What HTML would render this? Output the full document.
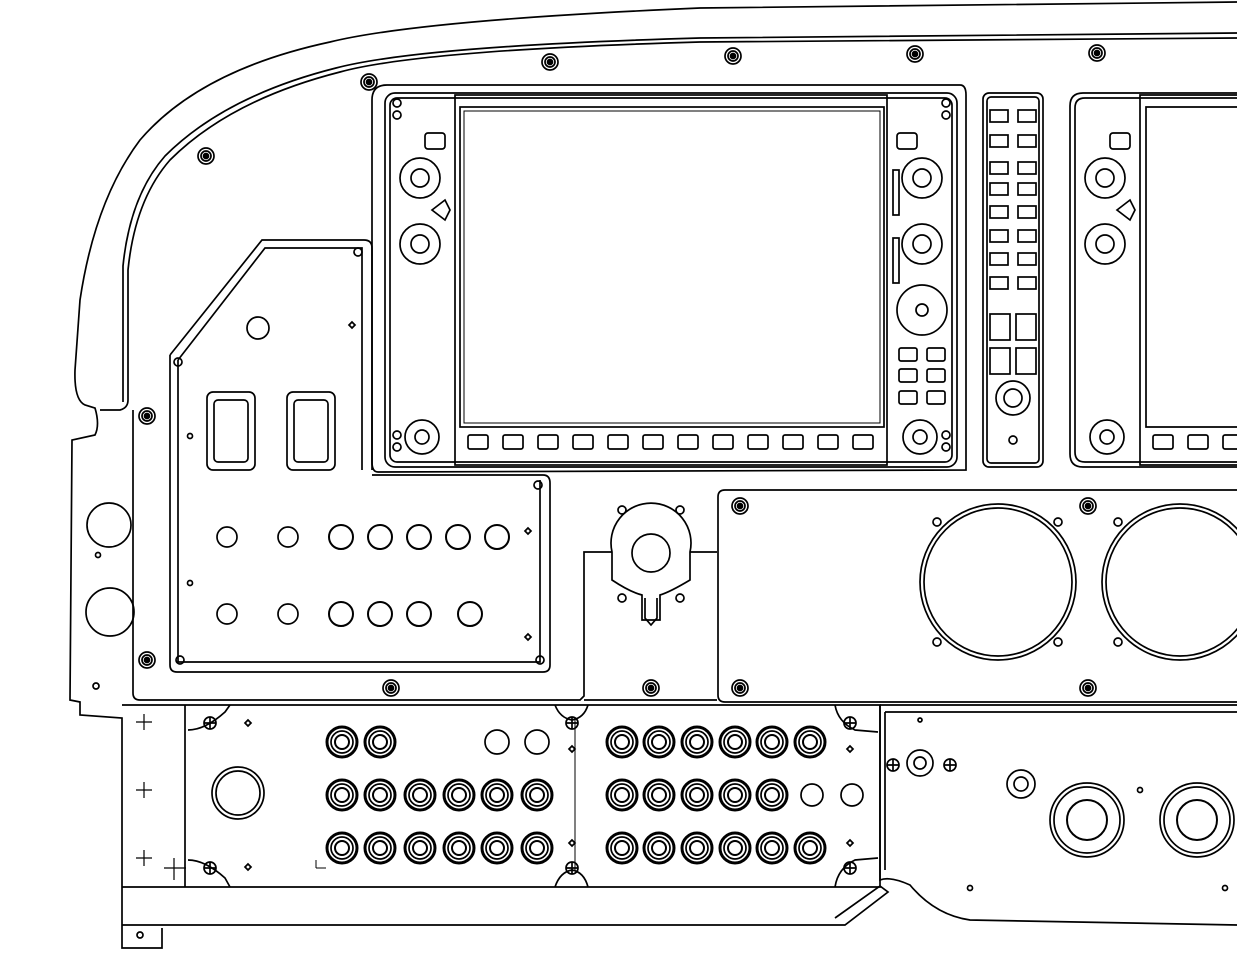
<!DOCTYPE html>
<html><head><style>html,body{margin:0;padding:0;background:#fff}svg{display:block}</style></head><body>
<svg width="1237" height="980" viewBox="0 0 1237 980" xmlns="http://www.w3.org/2000/svg" fill="none" stroke="#000" stroke-width="1.7">
<defs>
<g id="scr"><circle r="8"/><circle r="5"/><circle r="2.5" fill="#000"/></g>
<g id="jack"><circle r="15" stroke-width="3"/><circle r="11"/><circle r="7" stroke-width="2"/></g>
<g id="ph"><circle r="6"/><path d="M-6 0H6M0 -6V6"/></g>
</defs>
<path d="M1237 2 L700 8 Q420 20 330 42 Q200 70 140 140 Q95 200 80 300 L75 370 Q74 400 85 405 L95 408 Q100 425 95 435 L72 440 L70 700 L80 702 L80 715 L122 718 L122 948 L162 948 L162 928"/>
<path d="M1237 38 L700 42 Q420 50 340 72 Q230 100 170 160 Q135 200 128 270 L128 400 Q128 408 120 410 L100 410"/>
<path d="M1237 33 L700 38 Q420 46 336 68 Q225 96 165 156 Q130 196 123 266 L123 402"/>
<path d="M133 410 L133 693 Q133 700 140 700 L580 700 L584 696 L584 552 L612 552"/>
<path d="M690 552 L717 552"/>
<path d="M372 100 Q372 85 387 85 L960 85 Q966 85 966 95 L966 470 L378 472 Q372 472 372 462 Z"/>
<rect x="385" y="93" width="572" height="374" rx="10"/>
<rect x="390" y="98" width="562" height="364" rx="7"/>
<rect x="455" y="95" width="432" height="370"/>
<rect x="460" y="107" width="424" height="320"/>
<rect x="464" y="111" width="416" height="312" stroke-width="1"/>
<g transform="translate(0,442)">
<rect x="468" y="-7" width="20" height="14" rx="2"/><rect x="503" y="-7" width="20" height="14" rx="2"/><rect x="538" y="-7" width="20" height="14" rx="2"/><rect x="573" y="-7" width="20" height="14" rx="2"/><rect x="608" y="-7" width="20" height="14" rx="2"/><rect x="643" y="-7" width="20" height="14" rx="2"/><rect x="678" y="-7" width="20" height="14" rx="2"/><rect x="713" y="-7" width="20" height="14" rx="2"/><rect x="748" y="-7" width="20" height="14" rx="2"/><rect x="783" y="-7" width="20" height="14" rx="2"/><rect x="818" y="-7" width="20" height="14" rx="2"/><rect x="853" y="-7" width="20" height="14" rx="2"/>
</g>
<circle cx="420" cy="178" r="20"/><circle cx="420" cy="178" r="9"/>
<circle cx="420" cy="244" r="20"/><circle cx="420" cy="244" r="9"/>
<circle cx="422" cy="437" r="17"/><circle cx="422" cy="437" r="7"/>
<rect x="425" y="133" width="20" height="16" rx="3"/>
<path d="M432 210 L445 200 L450 210 L445 220 Z"/>
<circle cx="397" cy="103" r="4"/><circle cx="397" cy="115" r="4"/><circle cx="397" cy="435" r="4"/><circle cx="397" cy="447" r="4"/>
<circle cx="922" cy="178" r="20"/><circle cx="922" cy="178" r="9"/>
<circle cx="922" cy="244" r="20"/><circle cx="922" cy="244" r="9"/>
<circle cx="922" cy="310" r="25"/><circle cx="922" cy="310" r="6"/>
<circle cx="920" cy="437" r="17"/><circle cx="920" cy="437" r="7"/>
<rect x="897" y="133" width="20" height="16" rx="3"/>
<rect x="893" y="170" width="6" height="45"/><rect x="893" y="238" width="6" height="45"/>
<circle cx="946" cy="103" r="4"/><circle cx="946" cy="115" r="4"/><circle cx="946" cy="435" r="4"/><circle cx="946" cy="447" r="4"/>
<rect x="899" y="348" width="18" height="13" rx="2"/><rect x="927" y="348" width="18" height="13" rx="2"/>
<rect x="899" y="369" width="18" height="13" rx="2"/><rect x="927" y="369" width="18" height="13" rx="2"/>
<rect x="899" y="391" width="18" height="13" rx="2"/><rect x="927" y="391" width="18" height="13" rx="2"/>
<rect x="983" y="93" width="60" height="374" rx="6"/>
<rect x="987" y="97" width="52" height="366" rx="4"/>
<g>
<rect x="990" y="110" width="18" height="12"/><rect x="1018" y="110" width="18" height="12"/>
<rect x="990" y="135" width="18" height="12"/><rect x="1018" y="135" width="18" height="12"/>
<rect x="990" y="162" width="18" height="12"/><rect x="1018" y="162" width="18" height="12"/>
<rect x="990" y="183" width="18" height="12"/><rect x="1018" y="183" width="18" height="12"/>
<rect x="990" y="206" width="18" height="12"/><rect x="1018" y="206" width="18" height="12"/>
<rect x="990" y="230" width="18" height="12"/><rect x="1018" y="230" width="18" height="12"/>
<rect x="990" y="253" width="18" height="12"/><rect x="1018" y="253" width="18" height="12"/>
<rect x="990" y="277" width="18" height="12"/><rect x="1018" y="277" width="18" height="12"/>
<rect x="990" y="314" width="20" height="26"/><rect x="1016" y="314" width="20" height="26"/>
<rect x="990" y="348" width="20" height="26"/><rect x="1016" y="348" width="20" height="26"/>
</g>
<circle cx="1013" cy="398" r="17"/><circle cx="1013" cy="398" r="9"/><circle cx="1013" cy="440" r="4"/>
<path d="M1237 93 L1083 93 Q1070 93 1070 106 L1070 454 Q1070 467 1083 467 L1237 467"/>
<path d="M1237 98 L1085 98 Q1075 98 1075 108 L1075 452 Q1075 462 1085 462 L1237 462"/>
<path d="M1237 95 L1140 95 L1140 465 L1237 465"/>
<path d="M1237 107 L1146 107 L1146 427 L1237 427"/>
<circle cx="1105" cy="178" r="20"/><circle cx="1105" cy="178" r="9"/>
<circle cx="1105" cy="244" r="20"/><circle cx="1105" cy="244" r="9"/>
<circle cx="1107" cy="437" r="17"/><circle cx="1107" cy="437" r="7"/>
<rect x="1110" y="133" width="20" height="16" rx="3"/>
<path d="M1117 210 L1130 200 L1135 210 L1130 220 Z"/>
<rect x="1153" y="435" width="20" height="14" rx="2"/><rect x="1188" y="435" width="20" height="14" rx="2"/><rect x="1223" y="435" width="20" height="14" rx="2"/>
<use href="#scr" x="369" y="82"/><use href="#scr" x="550" y="62"/><use href="#scr" x="733" y="56"/><use href="#scr" x="915" y="54"/><use href="#scr" x="1097" y="53"/><use href="#scr" x="206" y="156"/><use href="#scr" x="147" y="416"/>
<path d="M170 355 L262 240 L364 240 Q372 240 372 248 L372 470"/>
<path d="M178 360 L265 248 L362 248 L362 470"/>
<path d="M170 355 L170 665 Q170 672 177 672 L543 672 Q550 672 550 665 L550 483 Q550 475 543 475 L372 475"/>
<path d="M178 360 L178 662 L540 662 L540 480"/>
<circle cx="358" cy="252" r="4"/><circle cx="178" cy="362" r="4"/><circle cx="180" cy="660" r="4"/><circle cx="540" cy="660" r="4"/><circle cx="538" cy="485" r="4"/>
<circle cx="258" cy="328" r="11"/>
<path d="M352 322 l3 3 -3 3 -3 -3z"/>
<rect x="207" y="392" width="48" height="78" rx="6"/><rect x="214" y="400" width="34" height="62" rx="4"/>
<rect x="287" y="392" width="48" height="78" rx="6"/><rect x="294" y="400" width="34" height="62" rx="4"/>
<circle cx="190" cy="436" r="2.5"/><circle cx="190" cy="583" r="2.5"/>
<circle cx="227" cy="537" r="10"/><circle cx="288" cy="537" r="10"/>
<circle cx="341" cy="537" r="12" stroke-width="2"/><circle cx="380" cy="537" r="12" stroke-width="2"/><circle cx="419" cy="537" r="12" stroke-width="2"/><circle cx="458" cy="537" r="12" stroke-width="2"/><circle cx="497" cy="537" r="12" stroke-width="2"/>
<circle cx="227" cy="614" r="10"/><circle cx="288" cy="614" r="10"/>
<circle cx="341" cy="614" r="12" stroke-width="2"/><circle cx="380" cy="614" r="12" stroke-width="2"/><circle cx="419" cy="614" r="12" stroke-width="2"/><circle cx="470" cy="614" r="12" stroke-width="2"/>
<path d="M528 528 l3 3 -3 3 -3 -3z M528 634 l3 3 -3 3 -3 -3z"/>
<circle cx="109" cy="525" r="22"/><circle cx="110" cy="612" r="24"/><circle cx="98" cy="555" r="2.5"/><circle cx="96" cy="686" r="3"/>
<use href="#scr" x="147" y="660"/><use href="#scr" x="391" y="688"/><use href="#scr" x="651" y="688"/><use href="#scr" x="740" y="688"/><use href="#scr" x="1088" y="688"/>
<path d="M612 552 A40 40 0 1 1 690 552 L690 580 Q670 592 660 595 L660 620 L642 620 L642 595 Q630 592 612 580 Z"/>
<circle cx="651" cy="553" r="19"/>
<path d="M645 598 L645 618 L651 625 L657 618 L657 598"/>
<circle cx="622" cy="510" r="4"/><circle cx="680" cy="510" r="4"/><circle cx="622" cy="598" r="4"/><circle cx="680" cy="598" r="4"/>
<path d="M584 700 L717 700"/>
<path d="M1237 490 L725 490 Q718 490 718 497 L718 695 Q718 702 725 702 L1237 702"/>
<circle cx="998" cy="582" r="78"/><circle cx="998" cy="582" r="74"/>
<circle cx="1180" cy="582" r="78"/><circle cx="1180" cy="582" r="74"/>
<circle cx="937" cy="522" r="4"/><circle cx="1058" cy="522" r="4"/><circle cx="937" cy="642" r="4"/><circle cx="1058" cy="642" r="4"/>
<circle cx="1118" cy="522" r="4"/><circle cx="1118" cy="642" r="4"/>
<use href="#scr" x="740" y="506"/><use href="#scr" x="1088" y="506"/>
<path d="M122 705 L880 705 L880 887 L122 887"/>
<path d="M185 705 L185 887"/>
<path d="M188 730 Q205 730 225 712 L230 705 M188 860 Q205 860 225 878 L230 887"/>
<path d="M555 705 Q560 718 572 720 Q584 718 588 705 M555 887 Q560 872 572 870 Q584 872 588 887"/>
<path d="M835 705 Q838 722 855 730 L878 732 M835 887 Q838 868 855 860 L878 858"/>
<path d="M575 720 L575 870" stroke-width="1"/>
<use href="#ph" x="210" y="723"/><use href="#ph" x="210" y="868"/><use href="#ph" x="572" y="723"/><use href="#ph" x="572" y="868"/><use href="#ph" x="850" y="723"/><use href="#ph" x="850" y="868"/>
<g stroke-width="1.2"><path d="M136 722h16M144 714v16M136 790h16M144 782v16M136 858h16M144 850v16M164 868h22M174 858v22"/></g>
<circle cx="238" cy="793" r="26"/><circle cx="238" cy="793" r="22"/>
<path d="M316 868 v-8 M316 868 h10" stroke-width="1"/>
<path d="M248 720 l3 3 -3 3 -3 -3z M248 864 l3 3 -3 3 -3 -3z M572 746 l3 3 -3 3 -3 -3z M572 840 l3 3 -3 3 -3 -3z M850 746 l3 3 -3 3 -3 -3z M850 840 l3 3 -3 3 -3 -3z"/>
<use href="#jack" x="342" y="742"/><use href="#jack" x="380" y="742"/>
<circle cx="497" cy="742" r="12"/><circle cx="537" cy="742" r="12"/>
<use href="#jack" x="622" y="742"/><use href="#jack" x="659" y="742"/><use href="#jack" x="697" y="742"/><use href="#jack" x="735" y="742"/><use href="#jack" x="772" y="742"/><use href="#jack" x="810" y="742"/>
<use href="#jack" x="342" y="795"/><use href="#jack" x="380" y="795"/><use href="#jack" x="420" y="795"/><use href="#jack" x="459" y="795"/><use href="#jack" x="497" y="795"/><use href="#jack" x="537" y="795"/>
<use href="#jack" x="622" y="795"/><use href="#jack" x="659" y="795"/><use href="#jack" x="697" y="795"/><use href="#jack" x="735" y="795"/><use href="#jack" x="772" y="795"/>
<circle cx="812" cy="795" r="11"/><circle cx="852" cy="795" r="11"/>
<use href="#jack" x="342" y="848"/><use href="#jack" x="380" y="848"/><use href="#jack" x="420" y="848"/><use href="#jack" x="459" y="848"/><use href="#jack" x="497" y="848"/><use href="#jack" x="537" y="848"/>
<use href="#jack" x="622" y="848"/><use href="#jack" x="659" y="848"/><use href="#jack" x="697" y="848"/><use href="#jack" x="735" y="848"/><use href="#jack" x="772" y="848"/><use href="#jack" x="810" y="848"/>
<path d="M122 925 L845 925 L888 892 L880 886 L835 918"/>
<circle cx="140" cy="935" r="3"/>
<path d="M880 705 L1237 705 M880 705 L880 880 Q890 876 910 885 Q935 915 970 920 L1237 925"/>
<path d="M885 712 L1237 712 M885 712 L885 870"/>
<circle cx="920" cy="763" r="13"/><circle cx="920" cy="763" r="6"/>
<use href="#ph" x="893" y="765"/><use href="#ph" x="950" y="765"/>
<circle cx="920" cy="720" r="2"/>
<circle cx="1021" cy="784" r="14"/><circle cx="1021" cy="784" r="7"/>
<circle cx="1087" cy="820" r="37"/><circle cx="1087" cy="820" r="33"/><circle cx="1087" cy="820" r="20" stroke-width="2"/>
<circle cx="1197" cy="820" r="37"/><circle cx="1197" cy="820" r="33"/><circle cx="1197" cy="820" r="20" stroke-width="2"/>
<circle cx="1140" cy="790" r="2.5"/><circle cx="970" cy="888" r="2.5"/><circle cx="1225" cy="888" r="2.5"/>
</svg>
</body></html>
